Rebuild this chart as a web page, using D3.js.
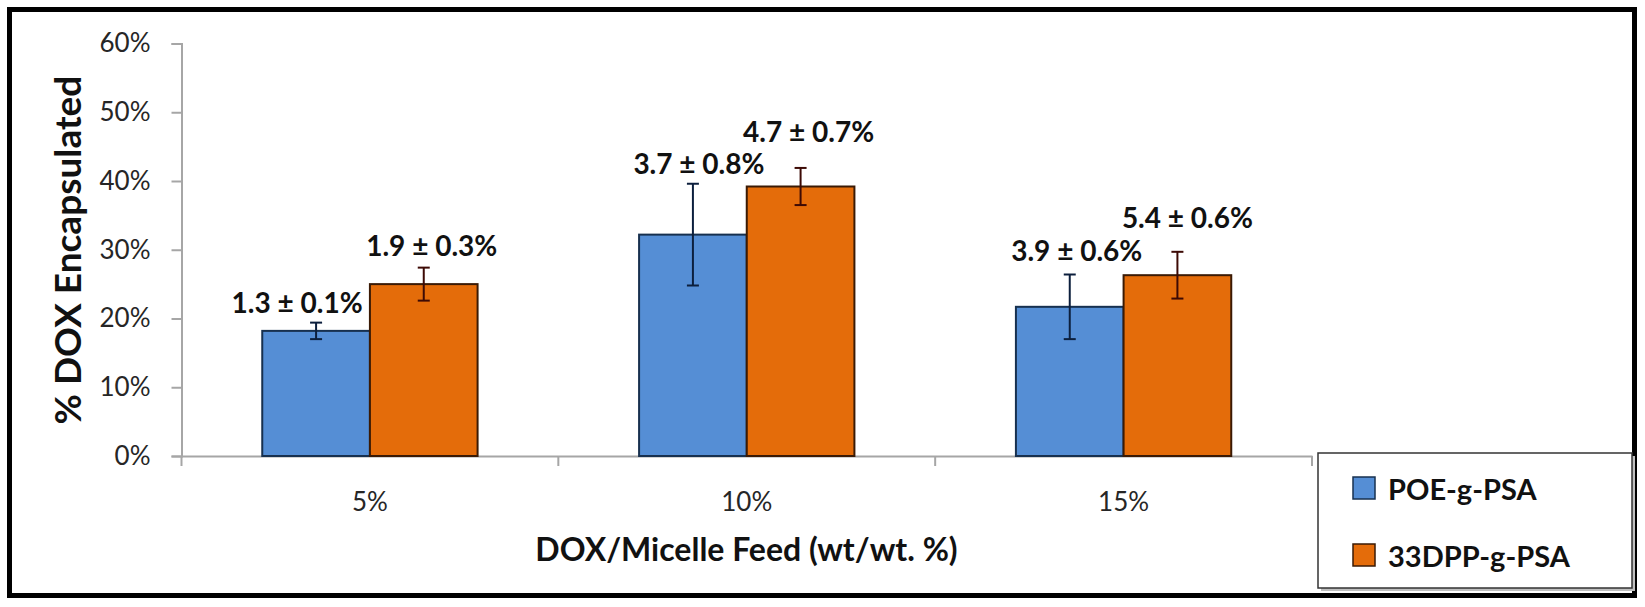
<!DOCTYPE html>
<html>
<head>
<meta charset="utf-8">
<script src="https://cdn.jsdelivr.net/npm/d3@7"></script>
<style>
  body { margin: 0; background: #fff; }
  svg { display: block; }
</style>
</head>
<body>
<svg id="chart" width="1645" height="607"></svg>
<script>
// Chart data
const categories = ["5%", "10%", "15%"];
const seriesNames = ["POE-g-PSA", "33DPP-g-PSA"];
const poeValues = [0.182, 0.322, 0.217];
const poeErrors = [0.012, 0.074, 0.047];
const dppValues = [0.250, 0.392, 0.263];
const dppErrors = [0.024, 0.027, 0.034];
const poeLabels = ["1.3 ± 0.1%", "3.7 ± 0.8%", "3.9 ± 0.6%"];
const dppLabels = ["1.9 ± 0.3%", "4.7 ± 0.7%", "5.4 ± 0.6%"];
const yTicks = [0, 0.1, 0.2, 0.3, 0.4, 0.5, 0.6];

// label nudges (px) — the labels were hand placed in the original
const poeLabelShift = [[-19, 10], [6, 10], [7, 14]];
const dppLabelShift = [[8, 12], [8, 26], [10, 24]];

const colors = { "POE-g-PSA": "#558ed5", "33DPP-g-PSA": "#e46c0a" };
const outlines = { "POE-g-PSA": "#17304f", "33DPP-g-PSA": "#3a1a05" };
const errColors = { "POE-g-PSA": "#0c1f3d", "33DPP-g-PSA": "#3d0a05" };

const series = [
  { name: seriesNames[0], values: poeValues, errors: poeErrors, labels: poeLabels, shift: poeLabelShift },
  { name: seriesNames[1], values: dppValues, errors: dppErrors, labels: dppLabels, shift: dppLabelShift }
];

const rows = [];
series.forEach(s => {
  categories.forEach((c, i) => {
    rows.push({ series: s.name, cat: c, value: s.values[i], err: s.errors[i], label: s.labels[i], shift: s.shift[i] });
  });
});

const svg = d3.select("#chart");
const FONT = "Lato, 'Open Sans', sans-serif";

// Plot area
const plot = { left: 181.5, right: 1312, top: 43.5, bottom: 456 };

const x0 = d3.scaleBand()
  .domain(categories)
  .range([plot.left, plot.right]);

// Excel-style gap width of 150%
const x1 = d3.scaleBand()
  .domain(seriesNames)
  .range([0, x0.bandwidth()])
  .paddingInner(0)
  .paddingOuter(0.75);

const y = d3.scaleLinear()
  .domain([0, 0.6])
  .range([plot.bottom, plot.top]);

// Outer frame
svg.append("rect")
  .attr("x", 9.5)
  .attr("y", 9.5)
  .attr("width", 1625)
  .attr("height", 586)
  .attr("fill", "#fff")
  .attr("stroke", "#000")
  .attr("stroke-width", 5);

// Y axis
const yAxis = svg.append("g")
  .attr("transform", `translate(${plot.left},0)`)
  .call(d3.axisLeft(y).tickValues(yTicks).tickFormat(d3.format(".0%")).tickSize(10).tickPadding(21));

yAxis.select(".domain").attr("stroke", "#a6a6a6").attr("stroke-width", 2);
yAxis.selectAll(".tick line").attr("stroke", "#a6a6a6").attr("stroke-width", 2);
yAxis.selectAll(".tick text")
  .attr("font-family", FONT)
  .attr("font-size", "26px")
  .attr("fill", "#262626");

// X axis
const xAxis = svg.append("g")
  .attr("transform", `translate(0,${plot.bottom})`)
  .call(d3.axisBottom(x0).tickSize(0).tickPadding(37));

xAxis.select(".domain").attr("stroke", "#a6a6a6").attr("stroke-width", 2);
xAxis.selectAll(".tick text")
  .attr("font-family", FONT)
  .attr("font-size", "26px")
  .attr("fill", "#262626");

// category boundary ticks
const bounds = categories.map(c => x0(c)).concat([x0.range()[1]]);
svg.append("g")
  .selectAll("line")
  .data(bounds)
  .enter()
  .append("line")
  .attr("x1", d => d)
  .attr("x2", d => d)
  .attr("y1", plot.bottom)
  .attr("y2", plot.bottom + 10)
  .attr("stroke", "#a6a6a6")
  .attr("stroke-width", 2);

// Bars
svg.append("g")
  .selectAll("rect")
  .data(rows)
  .enter()
  .append("rect")
  .attr("x", d => x0(d.cat) + x1(d.series))
  .attr("y", d => y(d.value))
  .attr("width", x1.bandwidth())
  .attr("height", d => y(0) - y(d.value))
  .attr("fill", d => colors[d.series])
  .attr("stroke", d => outlines[d.series])
  .attr("stroke-width", 2);

// Error bars
const errs = svg.append("g")
  .selectAll("g")
  .data(rows)
  .enter()
  .append("g")
  .attr("stroke", d => errColors[d.series])
  .attr("stroke-width", 2);

errs.append("line")
  .attr("x1", d => x0(d.cat) + x1(d.series) + x1.bandwidth() / 2)
  .attr("x2", d => x0(d.cat) + x1(d.series) + x1.bandwidth() / 2)
  .attr("y1", d => y(d.value - d.err))
  .attr("y2", d => y(d.value + d.err));

[-1, 1].forEach(sign => {
  errs.append("line")
    .attr("x1", d => x0(d.cat) + x1(d.series) + x1.bandwidth() / 2 - 6)
    .attr("x2", d => x0(d.cat) + x1(d.series) + x1.bandwidth() / 2 + 6)
    .attr("y1", d => y(d.value + sign * d.err))
    .attr("y2", d => y(d.value + sign * d.err));
});

// Data labels
svg.append("g")
  .selectAll("text")
  .data(rows)
  .enter()
  .append("text")
  .attr("x", d => x0(d.cat) + x1(d.series) + x1.bandwidth() / 2 + d.shift[0])
  .attr("y", d => y(d.value + d.err) - d.shift[1])
  .attr("text-anchor", "middle")
  .attr("font-family", FONT)
  .attr("font-weight", "bold")
  .attr("font-size", "28px")
  .attr("fill", "#111")
  .text(d => d.label);

// Axis titles
svg.append("text")
  .attr("transform", "translate(81,250) rotate(-90)")
  .attr("text-anchor", "middle")
  .attr("font-family", FONT)
  .attr("font-weight", "bold")
  .attr("font-size", "37px")
  .attr("fill", "#111")
  .text("% DOX Encapsulated");

svg.append("text")
  .attr("x", 746.5)
  .attr("y", 561)
  .attr("text-anchor", "middle")
  .attr("font-family", FONT)
  .attr("font-weight", "bold")
  .attr("font-size", "32px")
  .attr("fill", "#111")
  .text("DOX/Micelle Feed (wt/wt. %)");

// Legend
const legend = svg.append("g");

legend.append("rect")
  .attr("x", 1321)
  .attr("y", 456)
  .attr("width", 314)
  .attr("height", 135)
  .attr("fill", "#bfbfbf");

legend.append("rect")
  .attr("x", 1318)
  .attr("y", 453)
  .attr("width", 314)
  .attr("height", 135)
  .attr("fill", "#fff")
  .attr("stroke", "#333")
  .attr("stroke-width", 1.5);

const items = legend.selectAll(".item")
  .data(seriesNames)
  .enter()
  .append("g")
  .attr("class", "item")
  .attr("transform", (d, i) => `translate(1353,${477 + i * 67})`);

items.append("rect")
  .attr("width", 22)
  .attr("height", 22)
  .attr("fill", d => colors[d])
  .attr("stroke", d => outlines[d])
  .attr("stroke-width", 1.5);

items.append("text")
  .attr("x", 35)
  .attr("y", 23)
  .attr("font-family", FONT)
  .attr("font-weight", "bold")
  .attr("font-size", "29px")
  .attr("fill", "#111")
  .text(d => d);
</script>
</body>
</html>
